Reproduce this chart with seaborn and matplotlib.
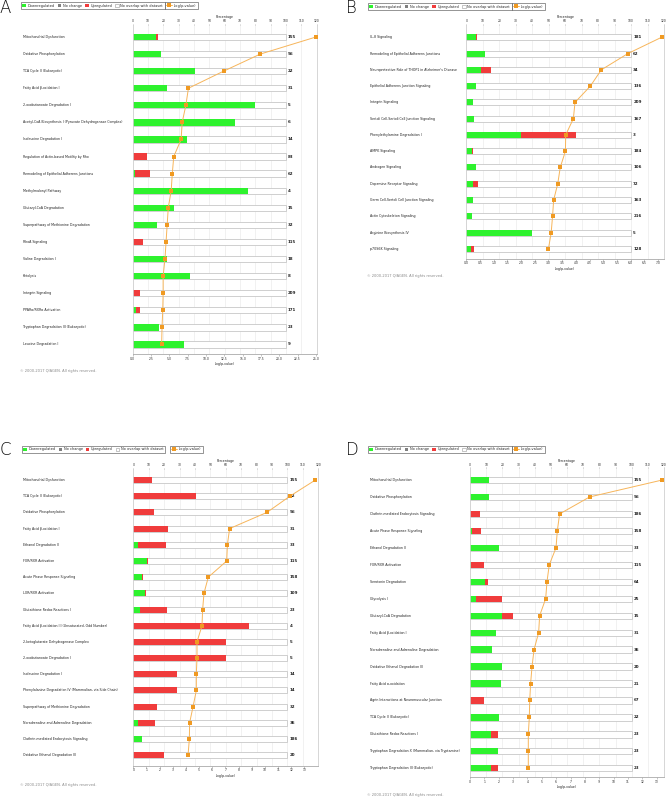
import numpy as np
import pandas as pd
import matplotlib
matplotlib.use("Agg")
import matplotlib.pyplot as plt
import matplotlib.transforms as mtransforms
from matplotlib.patches import Patch
from matplotlib.lines import Line2D
import seaborn as sns

sns.set_style("white")
plt.rcParams['font.family'] = ['DejaVu Sans']

# Panel A
A_PATHWAYS = ["Mitochondrial Dysfunction", "Oxidative Phosphorylation", "TCA Cycle II (Eukaryotic)",
              "Fatty Acid β-oxidation I", "2-oxobutanoate Degradation I",
              "Acetyl-CoA Biosynthesis I (Pyruvate Dehydrogenase Complex)", "Isoleucine Degradation I",
              "Regulation of Actin-based Motility by Rho", "Remodeling of Epithelial Adherens Junctions",
              "Methylmalonyl Pathway", "Glutaryl-CoA Degradation", "Superpathway of Methionine Degradation",
              "RhoA Signaling", "Valine Degradation I", "Ketolysis", "Integrin Signaling",
              "PPARα/RXRα Activation", "Tryptophan Degradation III (Eukaryotic)", "Leucine Degradation I"]
A_TOTAL = [155, 96, 22, 31, 5, 6, 14, 83, 62, 4, 15, 32, 115, 18, 8, 209, 171, 23, 9]
A_DOWN = [24, 18, 9, 7, 4, 4, 5, 0, 1, 3, 4, 5, 0, 4, 3, 0, 4, 4, 3]
A_UP = [2, 0, 0, 0, 0, 0, 0, 8, 6, 0, 0, 0, 8, 0, 0, 10, 4, 0, 0]
A_LOGP = [25.0, 17.4, 12.4, 7.6, 7.25, 6.75, 6.6, 5.6, 5.4, 5.25, 4.85, 4.7, 4.55, 4.4, 4.15, 4.15, 4.1, 4.0, 3.95]

# Panel B
B_PATHWAYS = ["IL-8 Signaling", "Remodeling of Epithelial Adherens Junctions",
              "Neuroprotective Role of THOP1 in Alzheimer's Disease", "Epithelial Adherens Junction Signaling",
              "Integrin Signaling", "Sertoli Cell-Sertoli Cell Junction Signaling",
              "Phenylethylamine Degradation I", "AMPK Signaling", "Androgen Signaling",
              "Dopamine Receptor Signaling", "Germ Cell-Sertoli Cell Junction Signaling",
              "Actin Cytoskeleton Signaling", "Arginine Biosynthesis IV", "p70S6K Signaling"]
B_TOTAL = [181, 62, 34, 136, 209, 167, 3, 184, 106, 72, 163, 216, 5, 128]
B_DOWN = [11, 7, 3, 8, 9, 8, 1, 6, 6, 3, 7, 8, 2, 4]
B_UP = [1, 0, 2, 0, 0, 0, 1, 1, 0, 2, 0, 0, 0, 2]
B_LOGP = [7.13, 5.9, 4.93, 4.53, 3.97, 3.91, 3.63, 3.62, 3.43, 3.34, 3.19, 3.15, 3.1, 3.0]

# Panel C
C_PATHWAYS = ["Mitochondrial Dysfunction", "TCA Cycle II (Eukaryotic)", "Oxidative Phosphorylation",
              "Fatty Acid β-oxidation I", "Ethanol Degradation II", "FXR/RXR Activation",
              "Acute Phase Response Signaling", "LXR/RXR Activation", "Glutathione Redox Reactions I",
              "Fatty Acid β-oxidation III (Unsaturated, Odd Number)", "2-ketoglutarate Dehydrogenase Complex",
              "2-oxobutanoate Degradation I", "Isoleucine Degradation I",
              "Phenylalanine Degradation IV (Mammalian, via Side Chain)", "Superpathway of Methionine Degradation",
              "Noradrenaline and Adrenaline Degradation", "Clathrin-mediated Endocytosis Signaling",
              "Oxidative Ethanol Degradation III"]
C_TOTAL = [155, 22, 96, 31, 33, 115, 158, 109, 23, 4, 5, 5, 14, 14, 32, 36, 186, 20]
C_DOWN = [0, 0, 0, 0, 1, 10, 9, 8, 1, 0, 0, 0, 0, 0, 0, 1, 10, 0]
C_UP = [19, 9, 13, 7, 6, 1, 1, 1, 4, 3, 3, 3, 4, 4, 5, 4, 0, 4]
C_LOGP = [13.84, 11.9, 10.16, 7.32, 7.15, 7.1, 5.7, 5.37, 5.27, 5.22, 4.84, 4.84, 4.79, 4.79, 4.54, 4.28, 4.26, 4.16]

# Panel D
D_PATHWAYS = ["Mitochondrial Dysfunction", "Oxidative Phosphorylation", "Clathrin-mediated Endocytosis Signaling",
              "Acute Phase Response Signaling", "Ethanol Degradation II", "FXR/RXR Activation",
              "Serotonin Degradation", "Glycolysis I", "Glutaryl-CoA Degradation", "Fatty Acid β-oxidation I",
              "Noradrenaline and Adrenaline Degradation", "Oxidative Ethanol Degradation III",
              "Fatty Acid α-oxidation", "Agrin Interactions at Neuromuscular Junction",
              "TCA Cycle II (Eukaryotic)", "Glutathione Redox Reactions I",
              "Tryptophan Degradation X (Mammalian, via Tryptamine)", "Tryptophan Degradation III (Eukaryotic)"]
D_TOTAL = [155, 96, 186, 158, 33, 115, 64, 25, 15, 31, 36, 20, 21, 67, 22, 23, 23, 23]
D_DOWN = [18, 11, 0, 2, 6, 1, 6, 1, 3, 5, 5, 4, 4, 0, 4, 3, 4, 3]
D_UP = [0, 0, 12, 9, 0, 9, 1, 4, 1, 0, 0, 0, 0, 6, 0, 1, 0, 1]
D_LOGP = [13.39, 8.33, 6.24, 6.08, 5.99, 5.52, 5.36, 5.27, 4.85, 4.78, 4.46, 4.32, 4.22, 4.16, 4.13, 4.06, 4.06, 4.06]

GREEN = '#2ef22e'
RED = '#f03c3c'
GREY = '#808080'
ORANGE = '#f09a22'
LINE_ORANGE = '#f7b55a'
COPYRIGHT = '© 2000-2017 QIAGEN. All rights reserved.'

W, H = 668, 799
fig = plt.figure(figsize=(W / 100, H / 100), dpi=100)


def fx(px):
    return px / W


def fy(py):
    return 1 - py / H


def draw_panel(letter, names, down, up, total, logp, box, row0, step, lmax, tick_max, tick_step, fmt,
               label_x, legend_xy, legend2_x, letter_xy, copy_xy):
    left, top, right, bottom = box
    df = pd.DataFrame({'pathway': names, 'row': np.arange(len(names)),
                       'down': down, 'up': up, 'total': total, 'logp': logp})
    df['full'] = 100.0
    df['down_pct'] = df['down'] / df['total'] * 100
    df['up_end'] = (df['down'] + df['up']) / df['total'] * 100

    ax = fig.add_axes([fx(left), fy(bottom), fx(right) - fx(left), (bottom - top) / H])
    axl = ax.twiny()

    common = dict(y='row', orient='h', native_scale=True, width=0.37, saturation=1, errorbar=None, ax=ax)
    sns.barplot(data=df, x='full', color='white', edgecolor='#c8c8c8', linewidth=0.6, **common)
    sns.barplot(data=df, x='up_end', color=RED, linewidth=0, **common)
    sns.barplot(data=df, x='down_pct', color=GREEN, linewidth=0, **common)

    # -log(p-value) line on the twin axis
    sns.lineplot(data=df, x='logp', y='row', sort=False, estimator=None, color=LINE_ORANGE, lw=0.7,
                 marker='s', markersize=2.2, markerfacecolor=ORANGE, markeredgewidth=0, ax=axl)

    # percentage axis on top
    ax.set_xlim(0, 120)
    ax.set_xticks(range(0, 121, 10))
    ax.xaxis.tick_top()
    ax.xaxis.set_label_position('top')
    ax.set_xlabel('Percentage', fontsize=2.3, labelpad=0.8)
    ax.set_ylabel('')
    ax.grid(axis='x', color='#ececec', lw=0.5)
    ax.grid(axis='y', visible=False)
    ax.set_axisbelow(True)
    ax.tick_params(axis='x', labelsize=2.2, length=0.8, width=0.4, color='#999999', pad=0.3)
    ax.tick_params(axis='y', left=False, labelleft=False)
    for s in ['top', 'bottom']:
        ax.spines[s].set_visible(False)
    for s in ['left', 'right']:
        ax.spines[s].set_color('#d0d0d0')
        ax.spines[s].set_linewidth(0.6)

    # -log(p-value) axis on bottom
    axl.set_xlim(0, lmax)
    ticks = np.arange(0, tick_max + 1e-9, tick_step)
    axl.set_xticks(ticks)
    axl.set_xticklabels([fmt % t for t in ticks])
    axl.xaxis.tick_bottom()
    axl.xaxis.set_label_position('bottom')
    axl.set_xlabel('-log(p-value)', fontsize=2.3, labelpad=1.0)
    axl.set_ylabel('')
    axl.tick_params(axis='x', labelsize=2.2, length=1.2, width=0.4, color='#999999', pad=0.8)
    axl.tick_params(axis='y', left=False, right=False, labelleft=False, labelright=False)
    for s in ['top', 'left', 'right']:
        axl.spines[s].set_visible(False)
    axl.spines['bottom'].set_color('#aaaaaa')
    axl.spines['bottom'].set_linewidth(0.6)

    ax.set_ylim((bottom - row0) / step, (top - row0) / step)

    trans = mtransforms.blended_transform_factory(fig.transFigure, ax.transData)
    for i, row in df.iterrows():
        ax.text(fx(label_x), row['row'], row['pathway'], transform=trans, fontsize=2.3,
                va='center', ha='left', color='#222222')
        ax.text(101.3, row['row'], str(row['total']), fontsize=2.9, fontweight='bold',
                va='center', ha='left', color='#222222')

    leg1 = fig.legend(handles=[Patch(facecolor=GREEN, edgecolor='none', label='Downregulated'),
                               Patch(facecolor=GREY, edgecolor='none', label='No change'),
                               Patch(facecolor=RED, edgecolor='none', label='Upregulated'),
                               Patch(facecolor='white', edgecolor='#999999', lw=0.4,
                                     label='No overlap with dataset')],
                      loc='center left', bbox_to_anchor=(fx(legend_xy[0]), fy(legend_xy[1])),
                      ncol=4, fontsize=2.5, frameon=True, fancybox=False, edgecolor='#444444',
                      handlelength=1.0, handleheight=1.0, handletextpad=0.5, columnspacing=0.9,
                      borderpad=0.4, borderaxespad=0)
    leg1.get_frame().set_linewidth(0.5)
    leg2 = fig.legend(handles=[Line2D([0], [0], color=LINE_ORANGE, lw=0.7, marker='s', markersize=2.2,
                                      markerfacecolor=ORANGE, markeredgewidth=0, label='-log(p-value)')],
                      loc='center left', bbox_to_anchor=(fx(legend2_x), fy(legend_xy[1])),
                      fontsize=2.5, frameon=True, fancybox=False, edgecolor='#444444',
                      handlelength=1.6, handletextpad=0.5, borderpad=0.4, borderaxespad=0)
    leg2.get_frame().set_linewidth(0.5)

    fig.text(fx(letter_xy[0]), fy(letter_xy[1]), letter, fontsize=12, fontweight='light',
             va='center', ha='left', color='#111111')
    fig.text(fx(copy_xy[0]), fy(copy_xy[1]), COPYRIGHT, fontsize=2.6, color='#8a8a8a',
             va='center', ha='left')


draw_panel('A', A_PATHWAYS, A_DOWN, A_UP, A_TOTAL, A_LOGP, (132.7, 25, 316.7, 354), 37, 17.08,
           25.1, 25.0, 2.5, '%.1f', 23, (21, 5.5), 165, (0, 8), (20, 371))
draw_panel('B', B_PATHWAYS, B_DOWN, B_UP, B_TOTAL, B_LOGP, (466.3, 25, 664, 258.7), 37.3, 16.27,
           7.22, 7.0, 0.5, '%.1f', 370, (368, 6.7), 512, (346, 8), (367, 275.7))
draw_panel('C', C_PATHWAYS, C_DOWN, C_UP, C_TOTAL, C_LOGP, (133.3, 468.7, 318.3, 765.7), 480, 16.19,
           14.06, 13, 1, '%d', 23, (21.7, 449.3), 170, (0, 450), (20, 785.3))
draw_panel('D', D_PATHWAYS, D_DOWN, D_UP, D_TOTAL, D_LOGP, (470, 468.4, 664, 777), 480, 16.96,
           13.51, 13, 1, '%d', 370, (368, 449.3), 512, (346, 450), (367, 795))

fig.savefig('out.png', dpi=100)
